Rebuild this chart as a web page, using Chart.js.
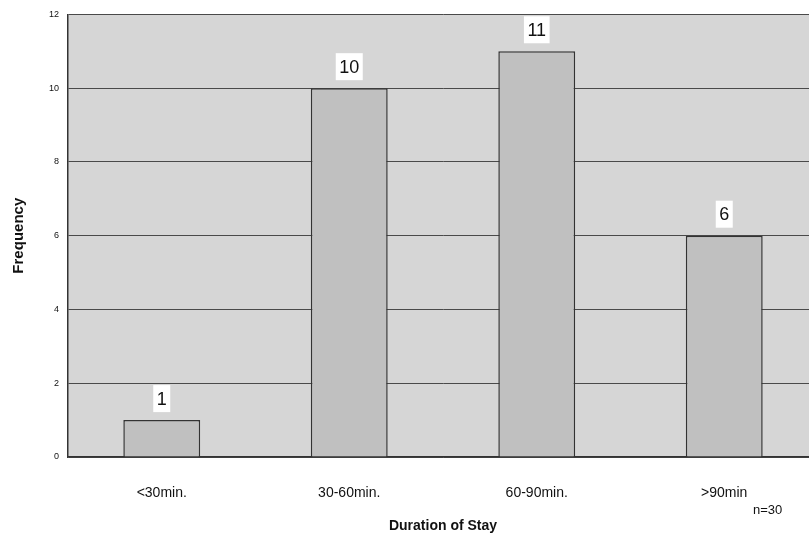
<!DOCTYPE html>
<html>
<head>
<meta charset="utf-8">
<script src="https://cdn.jsdelivr.net/npm/chart.js@4/dist/chart.umd.min.js"></script>
<style>
  html, body { margin: 0; padding: 0; background: #fff; overflow: hidden; }
  #wrap { width: 809px; height: 538px; overflow: hidden; }
</style>
</head>
<body>
<div id="wrap"><canvas id="stay" width="818" height="538"></canvas></div>
<script>
var categories = ["<30min.", "30-60min.", "60-90min.", ">90min"];
var frequency = [1, 10, 11, 6];
var yTicks = [0, 2, 4, 6, 8, 10, 12];
var sampleNote = "n=30";

// grey plot area, like the old spreadsheet chart
var plotBackground = {
    id: 'plotBackground',
    beforeDraw: function(chart) {
        var a = chart.chartArea, c = chart.ctx;
        c.save();
        c.fillStyle = '#d6d6d6';
        c.fillRect(a.left, a.top, a.right - a.left, a.bottom - a.top);
        c.restore();
    }
};

// numbers above the bars on white boxes, plus the n= note
var valueLabels = {
    id: 'valueLabels',
    afterDatasetsDraw: function(chart) {
        var c = chart.ctx;
        var meta = chart.getDatasetMeta(0);
        c.save();
        c.font = '18px "Liberation Sans", Arial, sans-serif';
        c.textAlign = 'center';
        c.textBaseline = 'middle';
        meta.data.forEach(function(bar, i) {
            var txt = String(frequency[i]);
            var w = c.measureText(txt).width + 7;
            var h = 27;
            var bottom = bar.y - 8;
            c.fillStyle = '#ffffff';
            c.fillRect(bar.x - w / 2, bottom - h, w, h);
            c.fillStyle = '#111';
            c.fillText(txt, bar.x, bottom - h / 2 + 1);
        });
        c.font = '13px "Liberation Sans", Arial, sans-serif';
        c.textAlign = 'left';
        c.fillText(sampleNote, 753, 510);
        c.restore();
    }
};

var ctx = document.getElementById("stay");

var stayChart = new Chart(ctx, {
    type: 'bar',
    data: {
        labels: categories,
        datasets: [{
            data: frequency,
            backgroundColor: '#c0c0c0',
            borderColor: '#333333',
            borderWidth: 1.5,
            barPercentage: 0.41,
            categoryPercentage: 1.0
        }]
    },
    options: {
        responsive: false,
        animation: false,
        layout: { padding: 0 },
        plugins: {
            legend: { display: false },
            tooltip: { enabled: false }
        },
        scales: {
            x: {
                grid: { display: false, drawTicks: false },
                border: { color: '#333', width: 1.5 },
                ticks: {
                    padding: 28,
                    color: '#111',
                    font: { size: 14, family: '"Liberation Sans", Arial, sans-serif' }
                },
                title: {
                    display: true,
                    text: 'Duration of Stay',
                    color: '#111',
                    padding: { top: 0, bottom: 3 },
                    font: { size: 14, weight: 'bold', family: '"Liberation Sans", Arial, sans-serif' }
                },
                afterFit: function(s) { s.height = 81; }
            },
            y: {
                min: 0,
                max: 12,
                afterBuildTicks: function(s) {
                    s.ticks = yTicks.map(function(v) { return { value: v }; });
                },
                grid: { color: '#4a4a4a', lineWidth: 1, drawTicks: false },
                border: { color: '#333', width: 1.5 },
                ticks: {
                    padding: 9,
                    color: '#111',
                    font: { size: 9, family: '"Liberation Sans", Arial, sans-serif' }
                },
                title: {
                    display: true,
                    text: 'Frequency',
                    color: '#111',
                    padding: { top: 10, bottom: 0 },
                    font: { size: 15, weight: 'bold', family: '"Liberation Sans", Arial, sans-serif' }
                },
                afterFit: function(s) { s.width = 68; }
            }
        }
    },
    plugins: [plotBackground, valueLabels]
});
</script>
</body>
</html>
